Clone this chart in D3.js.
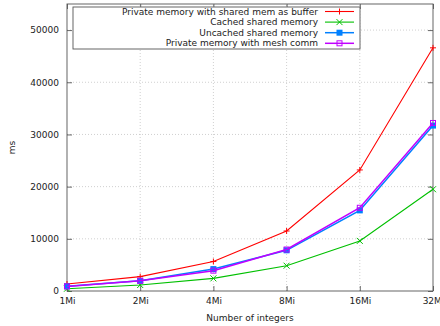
<!DOCTYPE html>
<html>
<head>
<meta charset="utf-8">
<script src="https://cdn.jsdelivr.net/npm/d3@7"></script>
<style>
  body { margin: 0; background: #fff; }
  svg { font-family: "DejaVu Sans", sans-serif; font-size: 9px; }
</style>
</head>
<body>
<div class="svg-target"></div>
<script>
const sizes = [1, 2, 4, 8, 16, 32];
const sizeLabels = ['1Mi', '2Mi', '4Mi', '8Mi', '16Mi', '32Mi'];
const yTicks = [0, 10000, 20000, 30000, 40000, 50000];

const seriesNames = [
    'Private memory with shared mem as buffer',
    'Cached shared memory',
    'Uncached shared memory',
    'Private memory with mesh comm'
];
const privateBuffer = [1340, 2750, 5650, 11500, 23200, 46600];
const cachedShared = [440, 1150, 2420, 4850, 9600, 19500];
const uncachedShared = [900, 1950, 4200, 7800, 15450, 31700];
const privateMesh = [880, 1950, 3900, 7950, 15950, 32200];
const colors = ['#ff0000', '#00c000', '#0080ff', '#c000ff'];
const markers = ['plus', 'cross', 'filled', 'open'];

const w = 440;
const h = 326;
const m = {left: 67, right: 7, top: 4, bottom: 35};

const series = [privateBuffer, cachedShared, uncachedShared, privateMesh];

const svg = d3.select('.svg-target')
    .append('svg')
    .attr('width', w)
    .attr('height', h);

const xScale = d3.scaleLog().base(2)
    .domain([1, 32])
    .range([m.left, w - m.right]);

const yScale = d3.scaleLinear()
    .domain([0, 55000])
    .range([h - m.bottom, m.top]);

// grid
const grid = svg.append('g');
grid.selectAll('.gx')
    .data(sizes.slice(1, -1))
    .enter().append('line')
    .attr('x1', d => xScale(d)).attr('x2', d => xScale(d))
    .attr('y1', yScale(0)).attr('y2', m.top)
    .attr('stroke', '#b0b0b0').attr('stroke-width', 0.6)
    .attr('stroke-dasharray', '1,2');
grid.selectAll('.gy')
    .data(yTicks.slice(1))
    .enter().append('line')
    .attr('x1', m.left).attr('x2', w - m.right)
    .attr('y1', d => yScale(d)).attr('y2', d => yScale(d))
    .attr('stroke', '#b0b0b0').attr('stroke-width', 0.6)
    .attr('stroke-dasharray', '1,2');

// axes
const xAxis = d3.axisBottom(xScale)
    .tickValues(sizes)
    .tickFormat((d, i) => sizeLabels[i])
    .tickSizeInner(-5).tickSizeOuter(0).tickPadding(7);
const xTop = d3.axisTop(xScale)
    .tickValues(sizes).tickFormat('')
    .tickSizeInner(-5).tickSizeOuter(0);
const yAxis = d3.axisLeft(yScale)
    .tickValues(yTicks)
    .tickFormat(d3.format('d'))
    .tickSizeInner(-5).tickSizeOuter(0).tickPadding(8);
const yRight = d3.axisRight(yScale)
    .tickValues(yTicks).tickFormat('')
    .tickSizeInner(-5).tickSizeOuter(0);

svg.append('g').attr('transform', `translate(0, ${h - m.bottom})`).call(xAxis);
svg.append('g').attr('transform', `translate(0, ${m.top})`).call(xTop);
svg.append('g').attr('transform', `translate(${m.left}, 0)`).call(yAxis);
svg.append('g').attr('transform', `translate(${w - m.right}, 0)`).call(yRight);

svg.selectAll('.domain').remove();
svg.selectAll('.tick line').attr('stroke', '#444').attr('stroke-width', 0.8);
svg.selectAll('.tick text').attr('fill', '#222').style('font-size', '9px')
    .style('font-family', '"DejaVu Sans", sans-serif');

svg.append('rect')
    .attr('x', m.left).attr('y', m.top)
    .attr('width', w - m.right - m.left)
    .attr('height', h - m.bottom - m.top)
    .attr('fill', 'none').attr('stroke', '#555').attr('stroke-width', 0.9);

// labels
svg.append('text')
    .attr('x', (m.left + w - m.right) / 2).attr('y', 321)
    .attr('text-anchor', 'middle').attr('fill', '#222')
    .text('Number of integers');
svg.append('text')
    .attr('transform', `translate(15, ${(m.top + h - m.bottom) / 2}) rotate(-90)`)
    .attr('text-anchor', 'middle').attr('fill', '#222')
    .text('ms');

const drawMarker = (g, type, x, y, color) => {
    const s = 3;
    if (type === 'plus') {
        g.append('path').attr('d', `M${x - s},${y}H${x + s}M${x},${y - s}V${y + s}`)
            .attr('stroke', color).attr('stroke-width', 1);
    } else if (type === 'cross') {
        g.append('path').attr('d', `M${x - s},${y - s}L${x + s},${y + s}M${x - s},${y + s}L${x + s},${y - s}`)
            .attr('stroke', color).attr('stroke-width', 1);
    } else if (type === 'filled') {
        g.append('rect').attr('x', x - s).attr('y', y - s).attr('width', 2 * s).attr('height', 2 * s)
            .attr('fill', color);
    } else {
        g.append('rect').attr('x', x - s + 0.5).attr('y', y - s + 0.5).attr('width', 2 * s - 1).attr('height', 2 * s - 1)
            .attr('fill', 'none').attr('stroke', color).attr('stroke-width', 1);
    }
};

const line = d3.line()
    .x((d, i) => xScale(sizes[i]))
    .y(d => yScale(d));

series.forEach((vals, k) => {
    const g = svg.append('g');
    g.append('path')
        .datum(vals)
        .attr('d', line)
        .attr('fill', 'none')
        .attr('stroke', colors[k])
        .attr('stroke-width', k === 2 || k === 3 ? 1.5 : 1.1);
    vals.forEach((v, i) => drawMarker(g, markers[k], xScale(sizes[i]), yScale(v), colors[k]));
});

// legend
const legend = svg.append('g');
legend.append('rect')
    .attr('x', 73).attr('y', 7)
    .attr('width', 287).attr('height', 42)
    .attr('fill', '#fff').attr('stroke', '#555').attr('stroke-width', 0.9);
seriesNames.forEach((name, k) => {
    const y = 11.5 + k * 10.6;
    legend.append('text')
        .attr('x', 318).attr('y', y).attr('dy', '0.35em')
        .attr('text-anchor', 'end').attr('fill', '#222')
        .text(name);
    legend.append('line')
        .attr('x1', 325).attr('x2', 354).attr('y1', y).attr('y2', y)
        .attr('stroke', colors[k]).attr('stroke-width', k === 2 || k === 3 ? 1.5 : 1.1);
    drawMarker(legend, markers[k], 339.5, y, colors[k]);
});
</script>
</body>
</html>
